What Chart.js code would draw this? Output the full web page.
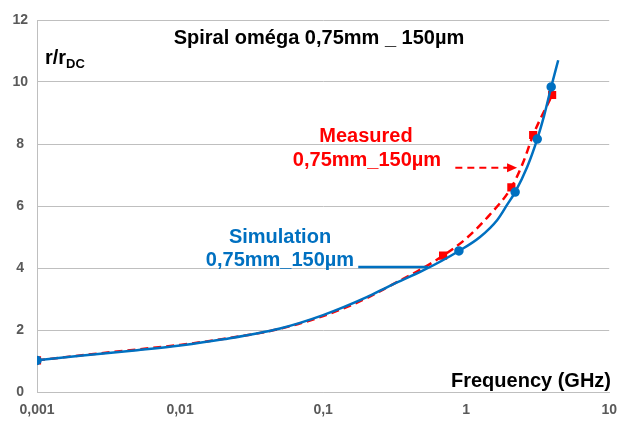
<!DOCTYPE html>
<html>
<head>
<meta charset="utf-8">
<script src="https://cdn.jsdelivr.net/npm/chart.js@4"></script>
<style>
  html, body { margin: 0; padding: 0; background: #fff; }
  canvas { display: block; }
</style>
</head>
<body>
<canvas id="chart" width="627" height="421"></canvas>
<script>
// simulation curve (GHz, r/rDC)
const simFreq = [0.001, 0.002, 0.005, 0.01, 0.02, 0.05, 0.1, 0.2, 0.3, 0.5, 0.89, 1.25, 1.65, 1.94, 2.2, 2.67, 3.14, 3.5, 3.93, 4.4];
const simRatio = [1.02, 1.17, 1.35, 1.50, 1.70, 2.05, 2.48, 3.05, 3.45, 3.92, 4.55, 5.0, 5.55, 6.05, 6.45, 7.26, 8.16, 8.9, 9.84, 10.7];
const simMarked = [0.001, 0.89, 2.2, 3.14, 3.93];

// measured curve
const measFreq = [0.001, 0.002, 0.005, 0.01, 0.02, 0.05, 0.1, 0.2, 0.3, 0.5, 0.69, 1.0, 1.45, 2.07, 2.5, 2.94, 3.99];
const measRatio = [1.02, 1.18, 1.37, 1.52, 1.71, 2.04, 2.45, 3.02, 3.45, 4.0, 4.4, 4.95, 5.7, 6.6, 7.4, 8.29, 9.58];
const measMarked = [0.001, 0.69, 2.07, 2.94, 3.99];

const xTicks = [0.001, 0.01, 0.1, 1, 10];
const xTickLabels = ['0,001', '0,01', '0,1', '1', '10'];

const BLUE = '#0070C0';
const RED = '#FF0000';
const FONT = "'Liberation Sans', Arial, sans-serif";

function toPoints(xs, ys) {
  return xs.map((v, i) => ({ x: v, y: ys[i] }));
}

function radii(xs, marked, r) {
  return xs.map(v => marked.includes(v) ? r : 0);
}

// annotation arrows in data units
const measArrow = { from: [0.84, 7.23], to: [2.27, 7.23] };
const simArrow = { from: [0.176, 4.03], to: [0.54, 4.03] };

const annotations = {
  id: 'annotations',
  afterDraw(chart) {
    const { ctx, scales: { x, y } } = chart;
    ctx.save();
    ctx.textBaseline = 'middle';

    // title
    ctx.fillStyle = '#000';
    ctx.font = 'bold 20px ' + FONT;
    ctx.textAlign = 'center';
    ctx.fillText('Spiral oméga 0,75mm _ 150µm', 319, 38);

    // y title r/rDC
    ctx.textAlign = 'left';
    ctx.fillText('r/r', 45, 58);
    const w = ctx.measureText('r/r').width;
    ctx.font = 'bold 13px ' + FONT;
    ctx.fillText('DC', 45 + w, 64);

    // x title
    ctx.font = 'bold 20px ' + FONT;
    ctx.textAlign = 'right';
    ctx.fillText('Frequency (GHz)', 611, 381);

    // measured label
    ctx.fillStyle = RED;
    ctx.textAlign = 'center';
    ctx.fillText('Measured', 366, 136);
    ctx.fillText('0,75mm_150µm', 367, 160);

    let x0 = x.getPixelForValue(measArrow.from[0]);
    let x1 = x.getPixelForValue(measArrow.to[0]);
    let yy = y.getPixelForValue(measArrow.from[1]);
    ctx.strokeStyle = RED;
    ctx.lineWidth = 2;
    ctx.setLineDash([7, 5]);
    ctx.beginPath();
    ctx.moveTo(x0, yy);
    ctx.lineTo(x1 - 8, yy);
    ctx.stroke();
    ctx.setLineDash([]);
    ctx.beginPath();
    ctx.moveTo(x1, yy);
    ctx.lineTo(x1 - 10, yy - 4.5);
    ctx.lineTo(x1 - 10, yy + 4.5);
    ctx.closePath();
    ctx.fill();

    // simulation label
    ctx.fillStyle = BLUE;
    ctx.fillText('Simulation', 280, 237);
    ctx.fillText('0,75mm_150µm', 280, 260);

    x0 = x.getPixelForValue(simArrow.from[0]);
    x1 = x.getPixelForValue(simArrow.to[0]);
    yy = y.getPixelForValue(simArrow.from[1]);
    ctx.strokeStyle = BLUE;
    ctx.lineWidth = 2.5;
    ctx.beginPath();
    ctx.moveTo(x0, yy);
    ctx.lineTo(x1, yy);
    ctx.stroke();

    ctx.restore();
  }
};

new Chart(document.getElementById('chart'), {
  type: 'line',
  data: {
    datasets: [
      {
        label: 'Simulation',
        data: toPoints(simFreq, simRatio),
        borderColor: BLUE,
        backgroundColor: BLUE,
        borderWidth: 2.5,
        pointStyle: 'circle',
        pointRadius: radii(simFreq, simMarked, 3.5),
        cubicInterpolationMode: 'monotone'
      },
      {
        label: 'Measured',
        data: toPoints(measFreq, measRatio),
        borderColor: RED,
        backgroundColor: RED,
        borderWidth: 2.5,
        borderDash: [8, 5],
        pointStyle: 'rect',
        pointRadius: radii(measFreq, measMarked, 4),
        cubicInterpolationMode: 'monotone'
      }
    ]
  },
  options: {
    responsive: false,
    animation: false,
    layout: { padding: { top: 20, right: 17, left: 0, bottom: 0 } },
    plugins: { legend: { display: false }, tooltip: { enabled: false } },
    scales: {
      x: {
        type: 'logarithmic',
        min: 0.001,
        max: 10,
        afterBuildTicks: scale => { scale.ticks = xTicks.map(v => ({ value: v })); },
        afterFit: scale => { scale.height = 29; },
        grid: { display: false, drawTicks: false },
        border: { color: '#BFBFBF', width: 1 },
        ticks: {
          padding: 10,
          maxRotation: 0,
          autoSkip: false,
          color: '#595959',
          font: { family: FONT, size: 14, weight: 'bold' },
          callback: (v) => xTickLabels[xTicks.indexOf(v)] ?? ''
        }
      },
      y: {
        min: 0,
        max: 12,
        afterFit: scale => { scale.width = 37; },
        grid: { color: '#BFBFBF', drawTicks: false },
        border: { color: '#BFBFBF', width: 1 },
        ticks: {
          stepSize: 2,
          padding: 9,
          crossAlign: 'center',
          color: '#595959',
          font: { family: FONT, size: 14, weight: 'bold' }
        }
      }
    }
  },
  plugins: [annotations]
});
</script>
</body>
</html>
